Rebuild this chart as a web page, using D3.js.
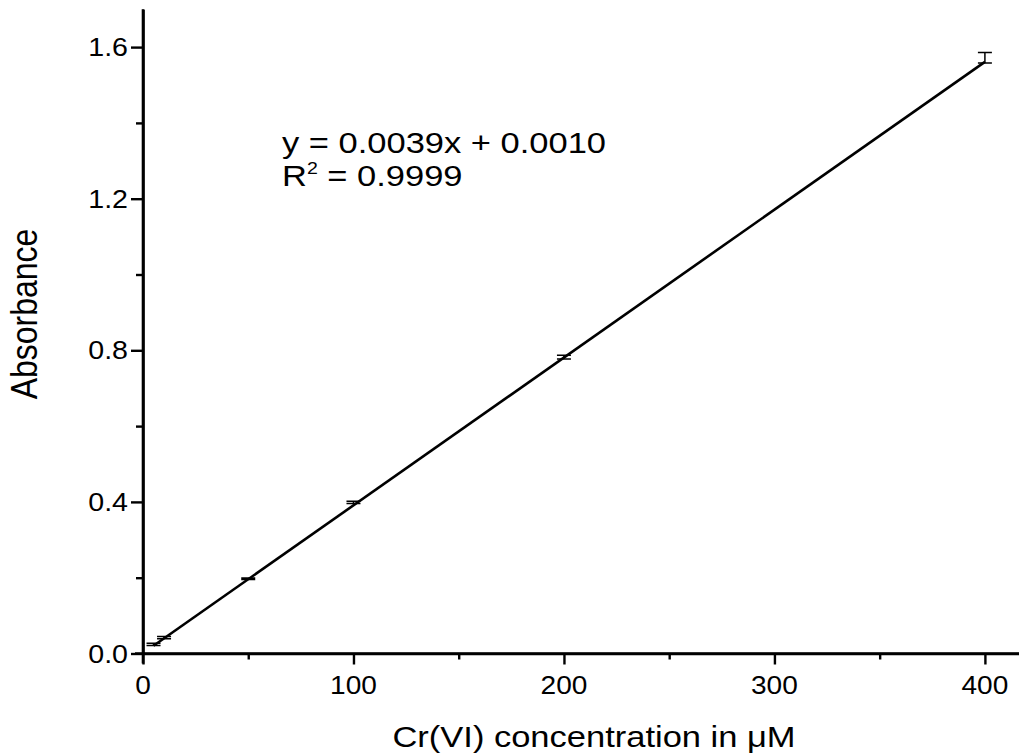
<!DOCTYPE html>
<html>
<head>
<meta charset="utf-8">
<script src="https://cdn.jsdelivr.net/npm/d3@7"></script>
<style>
  html, body { margin: 0; padding: 0; background: #fff; }
  svg { display: block; }
  text { font-family: "Liberation Sans", Arial, sans-serif; fill: #000; }
</style>
</head>
<body>
<script>
// Cr(VI) calibration: concentration (µM) vs. absorbance, mean ± error
const concentrations = [5, 10, 50, 100, 200, 400];
const absorbance = [0.024, 0.042, 0.197, 0.399, 0.782, 1.572];
const absorbanceErr = [0.003, 0.003, 0.002, 0.003, 0.005, 0.014];

// Linear fit reported on the chart
const slope = 0.0039;
const intercept = 0.0010;
const rSquared = 0.9999;

const xMajorTicks = [0, 100, 200, 300, 400];
const xMinorTicks = [50, 150, 250, 350];
const yMajorTicks = [0.0, 0.4, 0.8, 1.2, 1.6];
const yMinorTicks = [0.2, 0.6, 1.0, 1.4];

const W = 1019, H = 753;
const stretch = 1.15; // the figure's text is slightly wide
const tickStretch = 1.1;

const svg = d3.select("body").append("svg")
  .attr("width", W).attr("height", H);
svg.append("rect").attr("width", W).attr("height", H).attr("fill", "#fff");

const x = d3.scaleLinear().domain([0, 416.2]).range([143, 1019]);
const y = d3.scaleLinear().domain([0, 1.7]).range([653.5, 9.2]);

// Axis lines and ticks
function styleAxis(g) {
  g.select(".domain").attr("stroke", "#000").attr("stroke-width", 2.6);
  g.selectAll(".tick line").attr("stroke", "#000").attr("stroke-width", 2.4);
}

const xMinor = svg.append("g").attr("transform", `translate(0,${y(0)})`)
  .call(d3.axisBottom(x).tickValues(xMinorTicks).tickSize(6).tickSizeOuter(0).tickFormat(""));
styleAxis(xMinor);
const xMajor = svg.append("g").attr("transform", `translate(0,${y(0)})`)
  .call(d3.axisBottom(x).tickValues(xMajorTicks).tickSize(11).tickSizeOuter(0).tickFormat(""));
styleAxis(xMajor);
xMajor.select(".domain").attr("d", `M${x(0) - 8},0H${W}`);

const yMinor = svg.append("g").attr("transform", `translate(${x(0)},0)`)
  .call(d3.axisLeft(y).tickValues(yMinorTicks).tickSize(7).tickSizeOuter(0).tickFormat(""));
styleAxis(yMinor);
const yMajor = svg.append("g").attr("transform", `translate(${x(0)},0)`)
  .call(d3.axisLeft(y).tickValues(yMajorTicks).tickSize(12).tickSizeOuter(0).tickFormat(""));
styleAxis(yMajor);
yMajor.select(".domain").attr("d", `M0,${y(0) + 10}V${y(1.7)}`);

// Tick labels
svg.append("g").selectAll("text").data(xMajorTicks).join("text")
  .attr("transform", d => `translate(${x(d)},694) scale(${tickStretch},1)`)
  .attr("text-anchor", "middle")
  .attr("font-size", 25.5)
  .text(d => d3.format("d")(d));

svg.append("g").selectAll("text").data(yMajorTicks).join("text")
  .attr("transform", d => `translate(128,${y(d) + 9}) scale(${tickStretch},1)`)
  .attr("text-anchor", "end")
  .attr("font-size", 26)
  .text(d => d3.format(".1f")(d));

// Axis titles
svg.append("text")
  .attr("transform", `translate(594,747) scale(${stretch},1)`)
  .attr("text-anchor", "middle")
  .attr("font-size", 30)
  .text("Cr(VI) concentration in μM");

svg.append("text")
  .attr("transform", `translate(37,314) scale(${stretch},1) rotate(-90)`)
  .attr("text-anchor", "middle")
  .attr("font-size", 32)
  .text("Absorbance");

// Fitted line
const fitX = [d3.min(concentrations), d3.max(concentrations)];
svg.append("path")
  .datum(fitX)
  .attr("fill", "none")
  .attr("stroke", "#000")
  .attr("stroke-width", 2.6)
  .attr("d", d3.line().x(d => x(d)).y(d => y(slope * d + intercept)));

// Error bars
const pts = concentrations.map((c, i) => ({ c, a: absorbance[i], e: absorbanceErr[i] }));
const eb = svg.append("g").attr("stroke", "#000").attr("stroke-width", 1.5).attr("fill", "none");
const capHalf = 7;
eb.selectAll("path").data(pts).join("path")
  .attr("d", d => {
    const cx = x(d.c), y1 = y(d.a + d.e), y2 = y(d.a - d.e);
    return `M${cx - capHalf},${y1}H${cx + capHalf}M${cx},${y1}V${y2}M${cx - capHalf},${y2}H${cx + capHalf}`;
  });

// Regression annotation
const ann = svg.append("g").attr("transform", `translate(282,0) scale(${stretch},1)`);
ann.append("text").attr("x", 0).attr("y", 153).attr("font-size", 30)
  .text(`y = ${slope.toFixed(4)}x + ${intercept.toFixed(4)}`);
const r2 = ann.append("text").attr("x", 0).attr("y", 186).attr("font-size", 30);
r2.append("tspan").text("R");
r2.append("tspan").attr("font-size", 17).attr("dy", -12).text("2");
r2.append("tspan").attr("dy", 12).text(` = ${rSquared.toFixed(4)}`);
</script>
</body>
</html>
